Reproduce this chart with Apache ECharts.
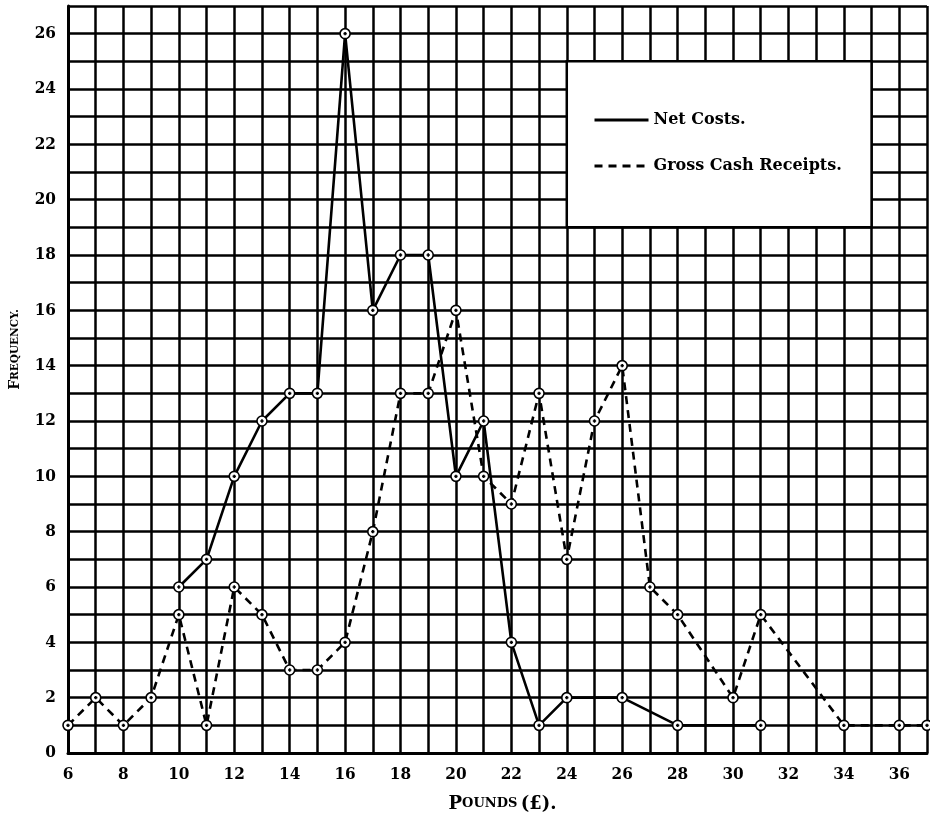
<!DOCTYPE html>
<html>
<head>
<meta charset="utf-8">
<script src="https://cdn.jsdelivr.net/npm/echarts@6/dist/echarts.min.js"></script>
<style>
html,body{margin:0;padding:0;background:#fff;}
#chart{width:930px;height:818px;}
</style>
</head>
<body>
<div id="chart"></div>
<script>
// Data
const netCostsX = [10, 11, 12, 13, 14, 15, 16, 17, 18, 19, 20, 21, 22, 23, 24, 26, 28, 31];
const netCostsY = [6, 7, 10, 12, 13, 13, 26, 16, 18, 18, 10, 12, 4, 1, 2, 2, 1, 1];
const grossX = [6, 7, 8, 9, 10, 11, 12, 13, 14, 15, 16, 17, 18, 19, 20, 21, 22, 23, 24, 25, 26, 27, 28, 30, 31, 34, 36, 37];
const grossY = [1, 2, 1, 2, 5, 1, 6, 5, 3, 3, 4, 8, 13, 13, 16, 10, 9, 13, 7, 12, 14, 6, 5, 2, 5, 1, 1, 1];
const seriesNames = ['Net Costs.', 'Gross Cash Receipts.'];
const legendBox = [[24, 25], [35, 19]];

const font = 'DejaVu Serif';
const tickFont = '"DejaVu Serif Condensed", "DejaVu Serif"';
const markerPath = 'path://M10,1A9,9,0,1,1,9.99,1Z M10,7L10,13 M7,10L13,10';

const chart = echarts.init(document.getElementById('chart'));
chart.setOption({
  animation: false,
  backgroundColor: '#fff',
  grid: { left: 68, right: 2, top: 6, bottom: 61 },
  legend: {
    orient: 'vertical',
    left: 588,
    top: 107,
    itemWidth: 54,
    itemHeight: 10,
    itemGap: 30,
    data: seriesNames,
    itemStyle: { opacity: 0 },
    lineStyle: { width: 3 },
    textStyle: { fontFamily: font, fontWeight: 'bold', fontSize: 16, color: '#000' }
  },
  xAxis: {
    type: 'value',
    min: 6, max: 37, interval: 1,
    name: '{a|P}{b|OUNDS} {a|(£).}',
    nameLocation: 'middle',
    nameGap: 42,
    nameTextStyle: {
      padding: [0, 0, 0, 10],
      rich: {
        a: { fontFamily: font, fontWeight: 'bold', fontSize: 18, color: '#000' },
        b: { fontFamily: font, fontWeight: 'bold', fontSize: 13, color: '#000' }
      }
    },
    axisLine: { show: true, lineStyle: { color: '#000', width: 3 } },
    axisTick: { show: false },
    splitLine: { show: true, lineStyle: { color: '#000', width: 2.5 } },
    axisLabel: {
      margin: 13,
      fontFamily: tickFont, fontWeight: 'bold', fontSize: 17, color: '#000',
      formatter: v => (v % 2 === 0 && v < 37) ? String(v) : ''
    }
  },
  yAxis: {
    type: 'value',
    min: 0, max: 27, interval: 1,
    name: '{a|F}{b|REQUENCY.}',
    nameLocation: 'middle',
    nameGap: 46,
    nameRotate: 90,
    nameTextStyle: {
      padding: [0, 0, 0, 60],
      rich: {
        a: { fontFamily: font, fontWeight: 'bold', fontSize: 14, color: '#000' },
        b: { fontFamily: font, fontWeight: 'bold', fontSize: 10.5, color: '#000' }
      }
    },
    axisLine: { show: true, lineStyle: { color: '#000', width: 3 } },
    axisTick: { show: false },
    splitLine: { show: true, lineStyle: { color: '#000', width: 2.5 } },
    axisLabel: {
      margin: 12,
      fontFamily: tickFont, fontWeight: 'bold', fontSize: 17, color: '#000',
      formatter: v => (v % 2 === 0 && v < 27) ? String(v) : ''
    }
  },
  series: [
    {
      name: seriesNames[0],
      type: 'line',
      data: netCostsX.map((x, i) => [x, netCostsY[i]]),
      symbol: markerPath,
      symbolSize: 10,
      lineStyle: { color: '#000', width: 2.6, type: 'solid' },
      itemStyle: { color: '#fff', borderColor: '#000', borderWidth: 1.6 },
      z: 3,
      markArea: {
        silent: true,
        itemStyle: { color: '#fff', opacity: 1, borderColor: '#000', borderWidth: 2.5 },
        data: [[{ coord: legendBox[0] }, { coord: legendBox[1] }]]
      }
    },
    {
      name: seriesNames[1],
      type: 'line',
      data: grossX.map((x, i) => [x, grossY[i]]),
      symbol: markerPath,
      symbolSize: 10,
      lineStyle: { color: '#000', width: 2.6, type: [8, 6] },
      itemStyle: { color: '#fff', borderColor: '#000', borderWidth: 1.6 },
      z: 3
    }
  ]
});
</script>
</body>
</html>
